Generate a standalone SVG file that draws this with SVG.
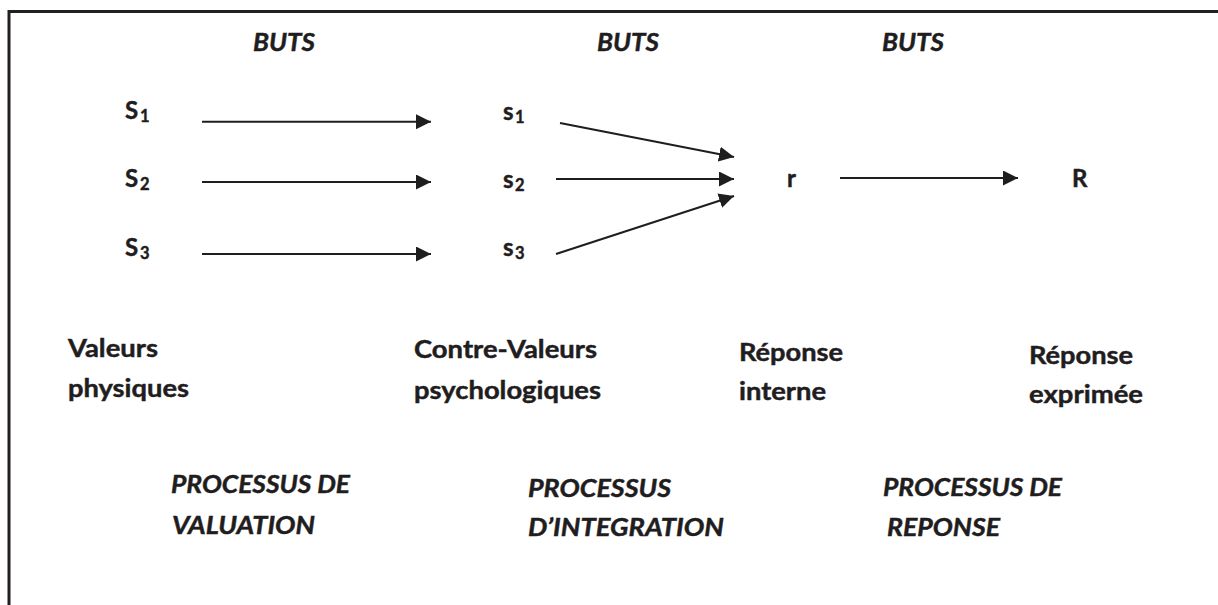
<svg xmlns="http://www.w3.org/2000/svg" width="1218" height="605" viewBox="0 0 1218 605">
<style>
  text { font-family: Lato, "Open Sans", sans-serif; font-weight: bold; fill: #1f1d1e; stroke: #1f1d1e; stroke-width: 0.45px; }
  .h { font-size: 24px; }
  .it { font-size: 24px; font-style: italic; }
  .sub { font-size: 16.5px; }
  .conn line { stroke: #1f1d1e; stroke-width: 2; marker-end: url(#ah); }
</style>
<defs>
  <marker id="ah" markerUnits="userSpaceOnUse" markerWidth="16" markerHeight="16" refX="15" refY="7.5" orient="auto">
    <path d="M0,0 L15,7.5 L0,15 Z" fill="#1f1d1e"/>
  </marker>
</defs>
<rect width="1218" height="605" fill="#ffffff"/>
<path id="frame" d="M9,605 V11.5 H1218" fill="none" stroke="#231f20" stroke-width="3"/>

<g id="buts">
  <text class="it" x="253" y="51" textLength="62" lengthAdjust="spacingAndGlyphs">BUTS</text>
  <text class="it" x="597" y="51" textLength="62" lengthAdjust="spacingAndGlyphs">BUTS</text>
  <text class="it" x="882" y="51" textLength="62" lengthAdjust="spacingAndGlyphs">BUTS</text>
</g>

<g id="S1"><text class="h" x="125" y="119">S<tspan class="sub" x="140" dy="3">1</tspan></text></g>
<g id="S2"><text class="h" x="125" y="187">S<tspan class="sub" x="140" dy="3">2</tspan></text></g>
<g id="S3"><text class="h" x="125" y="256">S<tspan class="sub" x="140" dy="3">3</tspan></text></g>

<g id="s1"><text class="h" x="503" y="120">s<tspan class="sub" x="515" dy="3">1</tspan></text></g>
<g id="s2"><text class="h" x="503" y="188">s<tspan class="sub" x="515" dy="3">2</tspan></text></g>
<g id="s3"><text class="h" x="503" y="256">s<tspan class="sub" x="515" dy="3">3</tspan></text></g>

<g id="r"><text class="h" x="787" y="187">r</text></g>
<g id="R"><text class="h" x="1072" y="187">R</text></g>

<g id="connectors" class="conn">
  <line x1="202" y1="121.7" x2="431" y2="121.7"/>
  <line x1="202" y1="182" x2="431" y2="182"/>
  <line x1="202" y1="254" x2="431" y2="254"/>
  <line x1="560" y1="123" x2="734" y2="157"/>
  <line x1="556" y1="179" x2="734" y2="179"/>
  <line x1="556" y1="254" x2="734" y2="196"/>
  <line x1="840" y1="178" x2="1018" y2="178"/>
</g>

<g id="lbl-valeurs">
  <text class="h" x="68" y="357" textLength="90" lengthAdjust="spacingAndGlyphs">Valeurs</text>
  <text class="h" x="68" y="397" textLength="121" lengthAdjust="spacingAndGlyphs">physiques</text>
</g>
<g id="lbl-contre">
  <text class="h" x="414" y="358" textLength="183" lengthAdjust="spacingAndGlyphs">Contre-Valeurs</text>
  <text class="h" x="414" y="399" textLength="187" lengthAdjust="spacingAndGlyphs">psychologiques</text>
</g>
<g id="lbl-interne">
  <text class="h" x="739" y="361" textLength="104" lengthAdjust="spacingAndGlyphs">Réponse</text>
  <text class="h" x="739" y="400" textLength="87" lengthAdjust="spacingAndGlyphs">interne</text>
</g>
<g id="lbl-exprimee">
  <text class="h" x="1029" y="364" textLength="104" lengthAdjust="spacingAndGlyphs">Réponse</text>
  <text class="h" x="1029" y="403" textLength="114" lengthAdjust="spacingAndGlyphs">exprimée</text>
</g>

<g id="proc-valuation">
  <text class="it" x="171" y="493" textLength="179" lengthAdjust="spacingAndGlyphs">PROCESSUS DE</text>
  <text class="it" x="172" y="534" textLength="143" lengthAdjust="spacingAndGlyphs">VALUATION</text>
</g>
<g id="proc-integration">
  <text class="it" x="528" y="497" textLength="143" lengthAdjust="spacingAndGlyphs">PROCESSUS</text>
  <text class="it" x="528" y="536" textLength="196" lengthAdjust="spacingAndGlyphs">D’INTEGRATION</text>
</g>
<g id="proc-reponse">
  <text class="it" x="883" y="496" textLength="179" lengthAdjust="spacingAndGlyphs">PROCESSUS DE</text>
  <text class="it" x="887" y="536" textLength="113" lengthAdjust="spacingAndGlyphs">REPONSE</text>
</g>
</svg>
